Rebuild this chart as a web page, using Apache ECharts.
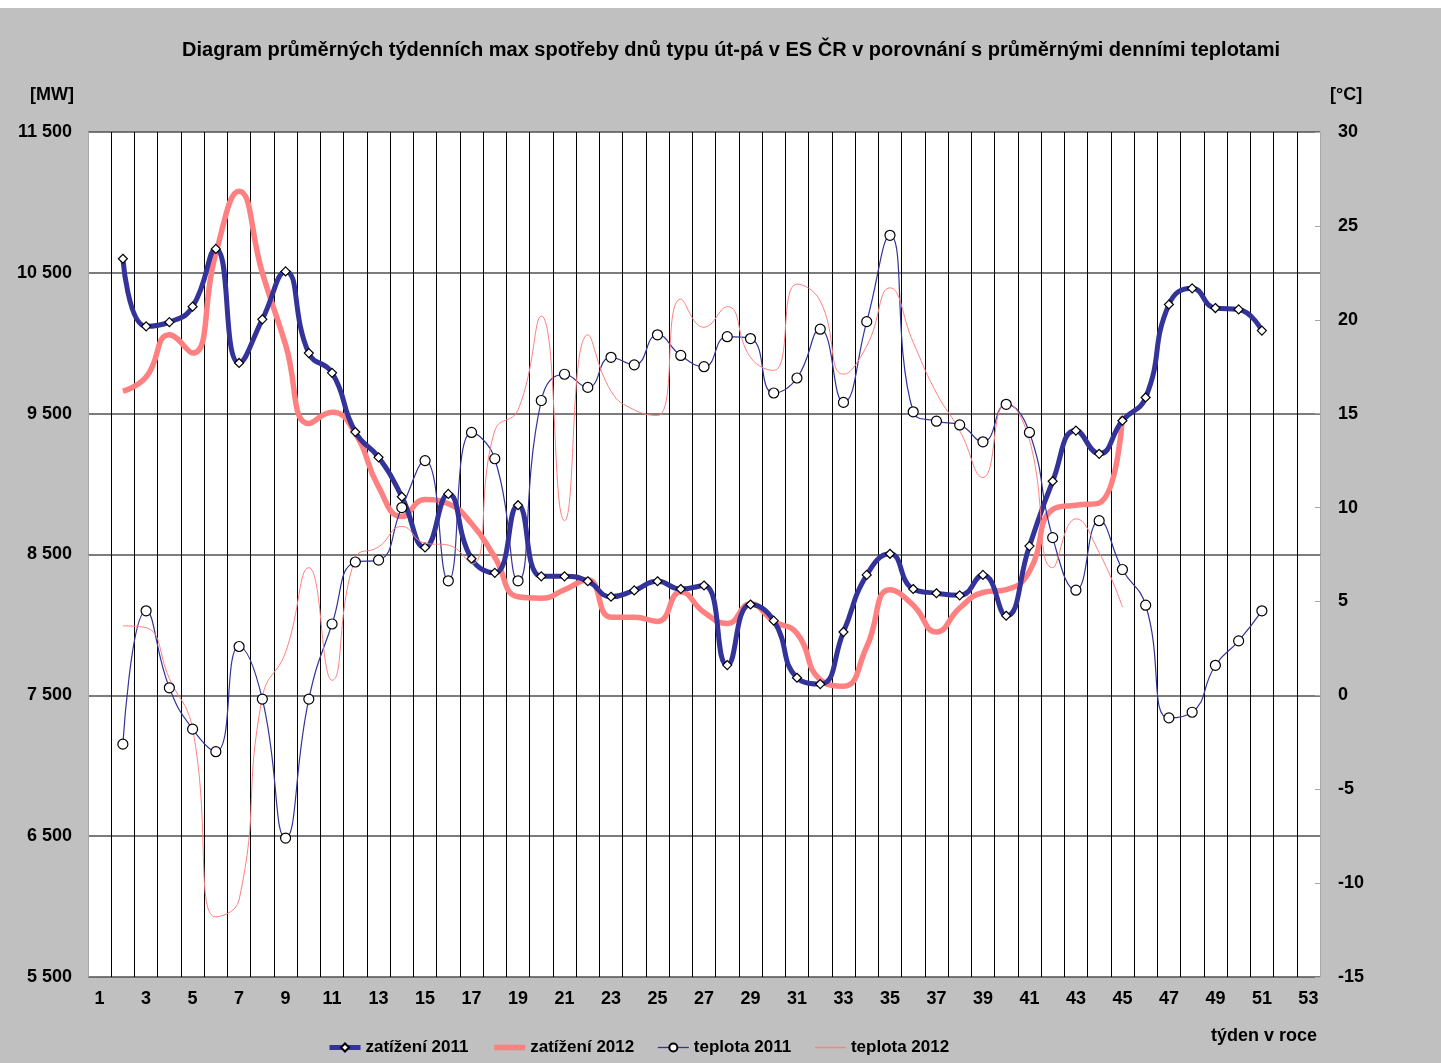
<!DOCTYPE html>
<html>
<head>
<meta charset="utf-8">
<script src="https://cdn.jsdelivr.net/npm/echarts@6/dist/echarts.min.js"></script>
<style>
  html, body { margin: 0; padding: 0; background: #c0c0c0; }
  #chart { width: 1441px; height: 1063px; }
</style>
</head>
<body>
<div id="chart"></div>
<script>
// Week numbers on the x axis
const weeks = ['1','2','3','4','5','6','7','8','9','10','11','12','13','14','15','16','17','18','19','20',
  '21','22','23','24','25','26','27','28','29','30','31','32','33','34','35','36','37','38','39','40',
  '41','42','43','44','45','46','47','48','49','50','51','52','53'];

// Average weekly max load, Tue–Fri [MW]
const load2011Start = 2;
const load2011 = [10600,10120,10150,10260,10670,9860,10170,10510,9930,9790,9370,9190,8910,8550,8930,8470,
  8370,8850,8345,8345,8310,8200,8245,8310,8255,8280,7715,8145,8030,7625,7580,7950,8355,8505,8255,8225,
  8210,8355,8065,8560,9020,9380,9215,9450,9615,10275,10390,10250,10240,10090];
const load2012Start = 2;
const load2012 = [9660,9760,10060,9930,10640,11080,10500,9990,9430,9510,9360,8980,8770,8890,8860,8720,
  8480,8200,8190,8250,8320,8055,8055,8025,8235,8090,8010,8150,8025,7940,7610,7565,7845,8250,8140,7950,
  8120,8230,8250,8380,8820,8850,8865,9480];

// Average daily temperature [°C]
const temp2011Start = 2;
const temp2011 = [-2.6,4.5,0.4,-1.8,-3.0,2.6,-0.2,-7.6,-0.2,3.8,7.1,7.2,10.0,12.5,6.1,14.0,12.6,6.1,15.7,
  17.1,16.4,18.0,17.6,19.2,18.1,17.5,19.1,19.0,16.1,16.9,19.5,15.6,19.9,24.5,15.1,14.6,14.4,13.5,15.5,
  14.0,8.4,5.6,9.3,6.7,4.8,-1.2,-0.9,1.6,2.9,4.5];
const temp2012Start = 2;
const temp2012 = [3.7,3.6,0.9,-1.8,-11.8,-10.9,-0.1,2.3,6.8,0.8,7.3,7.9,9.0,8.1,8.0,7.0,14.1,15.2,20.2,
  9.3,19.2,16.2,15.2,14.9,21.1,19.6,20.7,18.0,17.3,21.9,21.0,17.1,18.6,21.7,18.8,16.1,14.1,11.6,15.6,
  13.6,6.8,9.4,7.6,4.7];

// Axis ranges
const mwMin = 5500, mwMax = 11500, mwStep = 1000;
const tMin = -15, tMax = 30, tStep = 5;

// Align a series to the week categories
function alignToWeeks(startWeek, values) {
  const out = [];
  for (let i = 1; i < startWeek; i++) out.push(null);
  return out.concat(values);
}

// "11500" -> "11 500", only on every second tick
function formatMW(v) {
  if ((v - mwMin) % mwStep !== 0) return '';
  const s = String(v);
  return s.length > 3 ? s.slice(0, s.length - 3) + ' ' + s.slice(-3) : s;
}

const FONT = '"Liberation Sans", Arial, sans-serif';
const NAVY = '#333399';
const SALMON = '#ff8080';
const axisText = { fontFamily: FONT, fontWeight: 'bold', fontSize: 18, color: '#000' };
const legendText = { fontFamily: FONT, fontWeight: 'bold', fontSize: 17, color: '#000' };

const chart = echarts.init(document.getElementById('chart'), null, { renderer: 'canvas' });

chart.setOption({
  backgroundColor: '#c0c0c0',
  animation: false,
  textStyle: { fontFamily: FONT },
  title: {
    text: 'Diagram průměrných týdenních max spotřeby dnů typu út-pá v ES ČR v porovnání s průměrnými denními teplotami',
    left: 726,
    top: 35,
    textAlign: 'center',
    textStyle: { fontFamily: FONT, fontWeight: 'bold', fontSize: 20, color: '#000' }
  },
  graphic: [
    { type: 'rect', left: 0, top: 0, shape: { width: 1441, height: 8 }, style: { fill: '#ffffff' }, silent: true },
    {
      type: 'text', silent: true,
      style: { x: 1317, y: 1036, text: 'týden v roce', textAlign: 'right', textVerticalAlign: 'middle',
        font: 'bold 18px ' + FONT, fill: '#000' }
    }
  ],
  grid: {
    left: 88, right: 121, top: 132, bottom: 86,
    show: true, backgroundColor: '#ffffff', borderWidth: 0
  },
  legend: {
    top: 1034, left: 322,
    itemWidth: 31, itemHeight: 10, itemGap: 23,
    textStyle: legendText,
    data: [
      { name: 'zatížení 2011', lineStyle: { color: NAVY, width: 5 } },
      { name: 'zatížení 2012', lineStyle: { color: SALMON, width: 5.5 }, itemStyle: { opacity: 0 } },
      { name: 'teplota 2011', lineStyle: { color: NAVY, width: 1.3 } },
      { name: 'teplota 2012', lineStyle: { color: SALMON, width: 1.5 }, itemStyle: { opacity: 0 } }
    ]
  },
  xAxis: {
    type: 'category',
    data: weeks,
    boundaryGap: true,
    axisLine: { show: false },
    axisTick: { show: false },
    axisLabel: Object.assign({ interval: 1, margin: 13 }, axisText),
    splitLine: { show: true, interval: 0, lineStyle: { color: '#000', width: 1 } }
  },
  yAxis: [
    {
      type: 'value', min: mwMin, max: mwMax, interval: mwStep / 2,
      axisLine: { show: true, lineStyle: { color: '#a8a8a8' } },
      axisTick: { show: false },
      axisLabel: Object.assign({ margin: 16, formatter: formatMW }, axisText),
      splitLine: { show: true, lineStyle: { color: ['#505050', 'rgba(0,0,0,0)'], width: 1.5 } },
      name: '[MW]', nameLocation: 'end', nameGap: 28,
      nameTextStyle: Object.assign({ align: 'right', padding: [0, 14, 0, 0] }, axisText)
    },
    {
      type: 'value', min: tMin, max: tMax, interval: tStep, position: 'right',
      axisLine: { show: true, lineStyle: { color: '#a8a8a8' } },
      axisTick: { show: true, inside: true, length: 5, lineStyle: { color: '#a8a8a8' } },
      axisLabel: Object.assign({ margin: 18 }, axisText),
      splitLine: { show: false },
      name: '[°C]', nameLocation: 'end', nameGap: 28,
      nameTextStyle: Object.assign({ align: 'left', padding: [0, 0, 0, 10] }, axisText)
    }
  ],
  series: [
    {
      name: 'zatížení 2011', type: 'line', yAxisIndex: 0, smooth: 0.5,
      data: alignToWeeks(load2011Start, load2011),
      symbol: 'diamond', symbolSize: 9, showSymbol: true,
      lineStyle: { color: NAVY, width: 5 },
      itemStyle: { color: '#ffffff', borderColor: '#000', borderWidth: 1.2 },
      z: 3
    },
    {
      name: 'zatížení 2012', type: 'line', yAxisIndex: 0, smooth: 0.5,
      data: alignToWeeks(load2012Start, load2012),
      symbol: 'none', showSymbol: false,
      lineStyle: { color: SALMON, width: 5.5 },
      itemStyle: { color: SALMON },
      z: 2
    },
    {
      name: 'teplota 2011', type: 'line', yAxisIndex: 1, smooth: 0.5,
      data: alignToWeeks(temp2011Start, temp2011),
      symbol: 'circle', symbolSize: 10, showSymbol: true,
      lineStyle: { color: NAVY, width: 1.2 },
      itemStyle: { color: '#ffffff', borderColor: '#000', borderWidth: 1.2 },
      z: 4
    },
    {
      name: 'teplota 2012', type: 'line', yAxisIndex: 1, smooth: 0.5,
      data: alignToWeeks(temp2012Start, temp2012),
      symbol: 'none', showSymbol: false,
      lineStyle: { color: SALMON, width: 1 },
      itemStyle: { color: SALMON },
      z: 4
    }
  ]
});
</script>
</body>
</html>
